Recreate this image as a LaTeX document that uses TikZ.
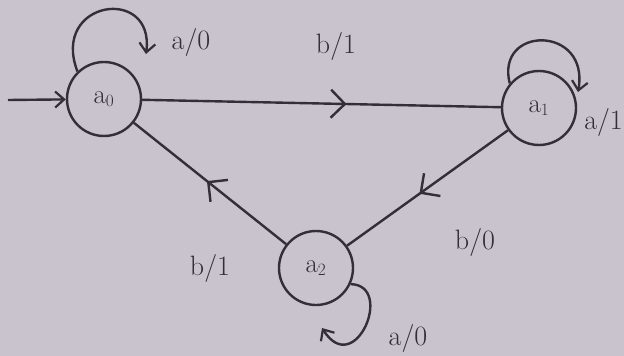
\documentclass[tikz,border=0pt]{standalone}
\usetikzlibrary{arrows.meta,decorations.markings}
\definecolor{bg}{RGB}{201,195,205}
\definecolor{ink}{RGB}{50,47,55}
\begin{document}
\begin{tikzpicture}[x=1pt,y=-1pt,
  state/.style={circle,draw=ink,line width=2.4pt,minimum size=74pt,inner sep=0pt,text=ink,font=\fontsize{27}{29}\selectfont},
  lbl/.style={text=ink,font=\fontsize{28}{30}\selectfont},
  edge/.style={draw=ink,line width=2.4pt},
  tipa/.style={-{Straight Barb[length=9pt,width=16pt,line width=2.2pt]}},
  midarrow/.style={postaction={decorate},decoration={markings,mark=at position #1 with {\arrow{Straight Barb[length=14pt,width=28pt,line width=2.4pt]}}}}
]
\useasboundingbox (0,0) rectangle (624,356);
\fill[bg] (0,0) rectangle (624,356);

\node[state] (a0) at (104,99) {a$_0$};
\node[state] (a1) at (539,108) {a$_1$};
\node[state] (a2) at (316,268) {a$_2$};

\coordinate (s) at (8,100);
\draw[edge,tipa] (s) -- (a0);

\draw[edge,midarrow=0.57] (a0) -- (a1);
\draw[edge,midarrow=0.55] (a1) -- (a2);
\draw[edge,midarrow=0.52] (a2) -- (a0);

\coordinate (l0) at (146,54);
\coordinate (l1) at (578,92);
\coordinate (l2) at (322,328);
\draw[edge,tipa] (a0.134) .. controls (50,0) and (155,-15) .. (l0);
\draw[edge,tipa] (a1.140) .. controls (495,25) and (590,25) .. (l1);
\draw[edge,tipa] (a2.-25) .. controls (395,285) and (355,380) .. (l2);

\node[lbl] (t0) at (191,42) {a/0};
\node[lbl] (t1) at (336,46) {b/1};
\node[lbl,anchor=east,inner xsep=1pt] (t2) at (624,122) {a/1};
\node[lbl] (t3) at (475,242) {b/0};
\node[lbl] (t4) at (210,268) {b/1};
\node[lbl] (t5) at (408,338) {a/0};
\end{tikzpicture}
\end{document}
